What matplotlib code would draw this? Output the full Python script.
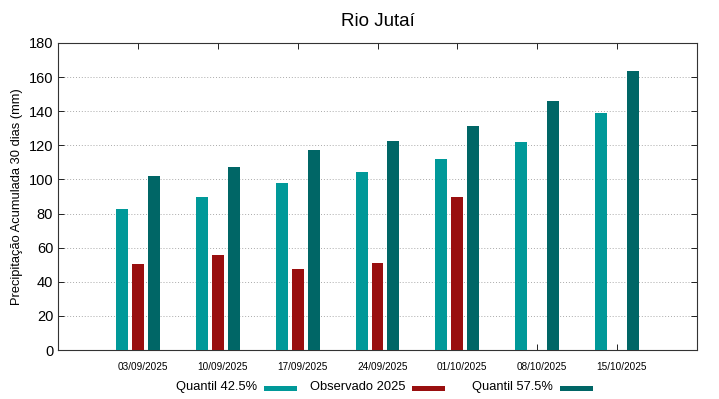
import matplotlib.pyplot as plt
from matplotlib.patches import Rectangle
import numpy as np

plt.rcParams['font.family'] = ['Liberation Sans', 'DejaVu Sans']

datas = ['03/09/2025', '10/09/2025', '17/09/2025', '24/09/2025',
         '01/10/2025', '08/10/2025', '15/10/2025']
quantil_425 = [82.5, 90.0, 98.0, 104.5, 112.0, 121.8, 139.2]
observado_2025 = [50.6, 55.5, 47.5, 51.0, 90.0, np.nan, np.nan]
quantil_575 = [102.2, 107.4, 117.0, 122.7, 131.6, 146.2, 163.3]
nomes = ['Quantil 42.5%', 'Observado 2025', 'Quantil 57.5%']

cor_q1 = '#009999'
cor_obs = '#990f0f'
cor_q2 = '#006666'
cores = [cor_q1, cor_obs, cor_q2]

W, H = 719, 399
fig = plt.figure(figsize=(W / 100, H / 100), dpi=100)
ax = fig.add_axes([58 / W, 49 / H, 639 / W, 307 / H])

x = np.arange(len(datas))
w = 0.15
ax.bar(x - 0.2, quantil_425, w, color=cor_q1, zorder=3)
ax.bar(x, observado_2025, w, color=cor_obs, zorder=3)
ax.bar(x + 0.2, quantil_575, w, color=cor_q2, zorder=3)

ax.set_xlim(-1, 7)
ax.set_ylim(0, 180)
ax.set_yticks(range(0, 181, 20))
# marcas nas posições das datas, rótulos levemente deslocados (como no gnuplot)
ax.set_xticks(x)
ax.set_xticklabels([])
ax.set_xticks(x + 0.06, minor=True)
ax.set_xticklabels(datas, minor=True, fontsize=7.2)
ax.tick_params(axis='x', which='minor', length=0, pad=8.5)
ax.tick_params(axis='y', labelsize=10.5, direction='in', right=True, length=4, width=0.6)
ax.tick_params(axis='x', which='major', direction='in', top=True, length=4, width=0.6)
for s in ax.spines.values():
    s.set_linewidth(0.8)
    s.set_color('#333333')

for v in range(20, 180, 20):
    ax.axhline(v, color='#aaaaaa', lw=0.7, ls=(0, (1, 2)), zorder=1)

ax.set_ylabel('Precipitação Acumulada 30 dias (mm)', fontsize=9.3)
ax.set_title('Rio Jutaí', fontsize=13.5, pad=12)

# legenda estilo gnuplot: texto alinhado à direita, caixa depois
for i, (nome, cor) in enumerate(zip(nomes, cores)):
    bx = 264 + 148 * i
    fig.add_artist(Rectangle((bx / W, (H - 391) / H), 33 / W, 5 / H,
                             transform=fig.transFigure, color=cor, lw=0))
    fig.text((bx - 7) / W, (H - 387) / H, nome, ha='right', va='center',
             fontsize=9.3)

fig.savefig('out.png', dpi=100)
